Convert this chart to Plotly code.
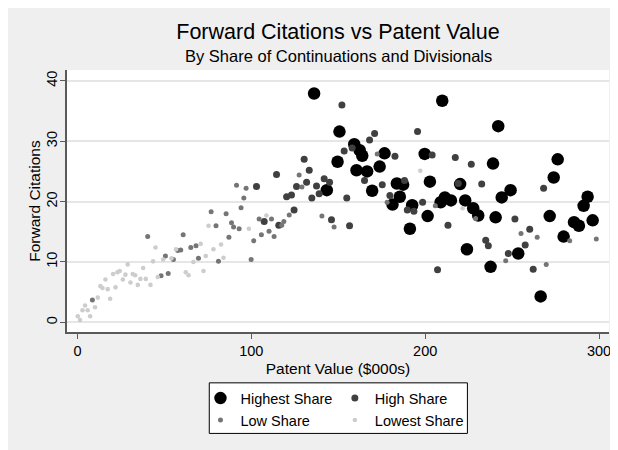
import plotly.graph_objects as go

FONT = "Liberation Sans, Arial, sans-serif"
BG_GRAY = "#efefef"
GRID = "#e6e6e6"
AXIS = "#5a5a5a"

# points, grouped by share of continuations/divisionals
highest_x = [136.1, 143.4, 209.8, 150.7, 149.6, 159.2, 162.3, 163.8, 160.5, 166.6, 176.6, 173.8,
             169.5, 183.7, 187.3, 185.4, 181.2, 192.5, 191.2, 199.7, 202.7, 201.4, 208.9, 211.3,
             214.8, 220.1, 223.0, 224.0, 227.6, 230.5, 242.0, 239.0, 244.0, 249.1, 240.5, 237.6,
             253.5, 266.4, 271.6, 273.9, 276.2, 279.6, 285.6, 288.4, 291.1, 293.4, 296.3]
highest_y = [37.9, 21.9, 36.7, 31.6, 26.6, 29.5, 28.5, 27.6, 25.2, 25.0, 28.0, 25.8,
             21.8, 23.0, 22.8, 20.8, 19.5, 19.4, 15.5, 27.9, 23.3, 17.6, 19.9, 20.7,
             20.2, 22.9, 20.2, 12.1, 18.9, 17.7, 32.5, 26.3, 20.7, 21.9, 17.4, 9.2,
             11.4, 4.3, 17.6, 24.0, 27.0, 14.2, 16.6, 16.0, 19.3, 20.8, 16.9]

high_x = [103.0, 114.5, 120.3, 123.1, 124.6, 126.0, 130.4, 131.8, 133.3, 134.8, 137.5, 139.0,
          141.9, 145.0, 107.4, 115.8, 146.1, 152.1, 153.4, 158.0, 168.0, 170.9, 182.6, 165.1,
          175.3, 154.9, 156.5, 179.7, 188.1, 195.6, 204.0, 189.7, 193.5, 198.5, 217.3, 219.0,
          213.1, 207.1, 226.5, 232.5, 234.8, 236.3, 251.6, 247.8, 257.5, 260.1, 262.1, 268.1]
high_y = [22.5, 24.5, 20.8, 21.1, 18.6, 22.5, 27.0, 23.2, 25.2, 20.6, 22.6, 21.3,
          23.8, 23.2, 16.7, 16.1, 17.0, 36.0, 28.4, 28.9, 30.2, 31.3, 27.5, 23.5,
          22.8, 20.6, 16.0, 21.0, 23.5, 31.6, 27.7, 18.6, 18.4, 19.9, 27.3, 23.0,
          16.1, 8.7, 26.2, 22.9, 13.6, 12.7, 17.1, 11.4, 12.8, 15.4, 8.8, 22.2]

low_x = [8.6, 40.4, 48.1, 50.6, 52.2, 55.2, 57.7, 59.4, 60.8, 65.2, 68.2, 69.6,
         76.9, 79.7, 85.5, 87.1, 88.6, 89.8, 91.5, 93.0, 94.1, 95.7, 97.0, 99.9,
         101.4, 104.5, 105.8, 110.2, 111.6, 113.1, 118.7, 121.8, 127.5, 129.1, 81.1, 117.5,
         147.6, 140.6, 172.4, 178.1, 205.8, 229.0, 246.3, 255.1, 264.4, 269.6, 283.1, 298.4]
low_y = [3.7, 14.2, 7.7, 11.0, 8.1, 10.4, 11.9, 12.0, 14.5, 12.4, 12.7, 10.6,
         18.3, 16.0, 18.0, 14.1, 16.5, 15.8, 22.7, 15.5, 19.0, 20.6, 22.2, 10.4,
         13.5, 17.1, 14.5, 15.1, 17.1, 14.2, 16.7, 17.8, 24.4, 22.4, 10.1, 16.1,
         15.8, 17.6, 27.9, 19.9, 19.3, 17.2, 10.2, 14.7, 14.1, 9.6, 13.5, 13.8]

lowest_x = [0.2, 1.5, 2.9, 4.4, 5.9, 7.3, 10.1, 11.7, 13.2, 14.4, 16.1, 17.4, 18.8, 20.5,
            21.9, 23.0, 24.3, 26.1, 27.6, 28.9, 30.5, 31.8, 33.2, 34.7, 36.2, 37.8, 39.3,
            42.0, 43.5, 44.9, 46.2, 49.3, 54.1, 56.7, 62.3, 63.9, 66.7, 70.9, 72.5, 73.8,
            75.4, 78.2, 82.6, 84.0, 98.6, 108.7, 197.2, 221.5]
lowest_y = [1.0, 0.4, 2.0, 2.8, 2.0, 1.0, 2.5, 4.1, 6.0, 5.7, 7.1, 5.5, 3.9, 8.0,
            5.8, 8.3, 8.5, 7.1, 7.9, 9.6, 6.6, 8.0, 7.8, 6.2, 7.2, 9.0, 7.2,
            6.2, 10.1, 12.4, 7.5, 10.4, 10.6, 12.1, 8.3, 7.8, 10.0, 13.0, 8.5, 11.0,
            16.0, 12.1, 12.9, 10.7, 15.5, 17.7, 25.1, 18.9]

groups = [
    ("Highest Share", highest_x, highest_y, "#000000", 12.5, "legend"),
    ("High Share", high_x, high_y, "#404040", 7, "legend2"),
    ("Low Share", low_x, low_y, "#757575", 5, "legend"),
    ("Lowest Share", lowest_x, lowest_y, "#cdcdcd", 4.6, "legend2"),
]

fig = go.Figure()
for name, xs, ys, color, size, leg in groups:
    fig.add_trace(go.Scatter(
        x=xs, y=ys, mode="markers", name=name, legend=leg,
        marker=dict(color=color, size=size, line=dict(width=0)),
    ))

# screen positions (page has an 8px body margin); plot area 67.3..609 x 70..331.7
def px_x(p):
    return (p - 67.3) / 541.7


def px_y(p):
    return (331.7 - p) / 261.7


fig.add_shape(type="rect", xref="paper", yref="paper", layer="below",
              x0=px_x(209.5), x1=px_x(467.5), y0=px_y(433), y1=px_y(382.5),
              fillcolor="white", line=dict(color="black", width=1))

fig.add_annotation(
    text="By Share of Continuations and Divisionals",
    xref="paper", yref="paper", x=0.5, y=px_y(56), xanchor="center", yanchor="middle",
    showarrow=False, font=dict(family=FONT, size=16.5, color="black"),
)

legend_style = dict(
    orientation="v", xanchor="left", yanchor="top",
    bgcolor="rgba(0,0,0,0)", borderwidth=0,
    font=dict(family=FONT, size=14.5, color="black"),
    tracegroupgap=0, itemclick=False,
)

fig.update_layout(
    width=618,
    height=450,
    margin=dict(l=59.3, r=17, t=62, b=126.3),
    paper_bgcolor=BG_GRAY,
    plot_bgcolor="white",
    font=dict(family=FONT, color="black"),
    title=dict(
        text="Forward Citations vs Patent Value",
        font=dict(family=FONT, size=21.5, color="black"),
        x=0.5, xref="paper", xanchor="center",
        y=1 - 23 / 450, yref="container", yanchor="middle",
        automargin=False,
    ),
    legend=dict(x=px_x(200.7), y=px_y(381.8), **legend_style),
    legend2=dict(x=px_x(335), y=px_y(381.8), **legend_style),
)

fig.update_xaxes(
    range=[-6, 305.7],
    tickvals=[0, 100, 200, 300],
    ticks="outside", ticklen=5, tickcolor=AXIS, tickwidth=1,
    showline=True, linecolor=AXIS, linewidth=1.5,
    showgrid=False, zeroline=False, automargin=False,
    tickfont=dict(size=14.5),
    title=dict(text="Patent Value ($000s)", font=dict(size=15.5), standoff=5),
)
fig.update_yaxes(
    range=[-1.6, 41.8],
    tickvals=[0, 10, 20, 30, 40],
    tickangle=-90, ticklabelstandoff=-3,
    ticks="outside", ticklen=5, tickcolor=AXIS, tickwidth=1,
    showline=True, linecolor=AXIS, linewidth=1.5,
    showgrid=True, gridcolor=GRID, gridwidth=1.5, zeroline=False, automargin=False,
    tickfont=dict(size=14.5),
    title=dict(text="Forward Citations", font=dict(size=15.5), standoff=0),
)

fig.write_html("out.html")
